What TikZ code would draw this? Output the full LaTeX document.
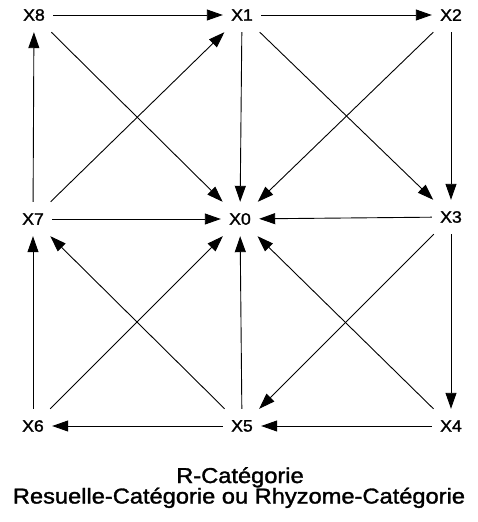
\documentclass[tikz,border=0pt]{standalone}
\usepackage{fontspec}
\usetikzlibrary{arrows.meta}
\newfontfamily\labfont[FakeStretch=1.07,FakeBold=1.5]{Liberation Sans}
\newfontfamily\titlefont[FakeStretch=1.1,FakeBold=1.5]{Liberation Sans}
\begin{document}
\begin{tikzpicture}[x=1pt,y=-1pt,
  vert/.style={rectangle,minimum width=38pt,minimum height=34pt,inner sep=0pt,
    font=\labfont\fontsize{16.5}{18}\selectfont},
  arr/.style={line width=0.9pt,-{Triangle[length=16pt,width=11pt]}},
  ttl/.style={anchor=base,inner sep=0pt,font=\titlefont\fontsize{21.5}{21}\selectfont}]
\useasboundingbox (0,0) rectangle (478,522);
\node[vert] (x8) at (34,15) {X8};
\node[vert] (x1) at (242,15) {X1};
\node[vert] (x2) at (451,15) {X2};
\node[vert] (x7) at (33,219) {X7};
\node[vert] (x0) at (240,219) {X0};
\node[vert] (x3) at (451,217) {X3};
\node[vert] (x6) at (33,426) {X6};
\node[vert] (x5) at (242,426) {X5};
\node[vert] (x4) at (451,426) {X4};
\draw[arr] (x8) -- (x1);
\draw[arr] (x1) -- (x2);
\draw[arr] (x8) -- (x0);
\draw[arr] (x7) -- (x8);
\draw[arr] (x7) -- (x1);
\draw[arr] (x1) -- (x0);
\draw[arr] (x7) -- (x0);
\draw[arr] (x2) -- (x0);
\draw[arr] (x2) -- (x3);
\draw[arr] (x1) -- (x3);
\draw[arr] (x3) -- (x0);
\draw[arr] (x3) -- (x4);
\draw[arr] (x3) -- (x5);
\draw[arr] (x4) -- (x0);
\draw[arr] (x4) -- (x5);
\draw[arr] (x5) -- (x0);
\draw[arr] (x5) -- (x7);
\draw[arr] (x6) -- (x7);
\draw[arr] (x6) -- (x0);
\draw[arr] (x5) -- (x6);
\node[ttl] (t1) at (240,483) {R-Catégorie};
\node[ttl] (t2) at (239,503.5) {Resuelle-Catégorie ou Rhyzome-Catégorie};
\end{tikzpicture}
\end{document}
